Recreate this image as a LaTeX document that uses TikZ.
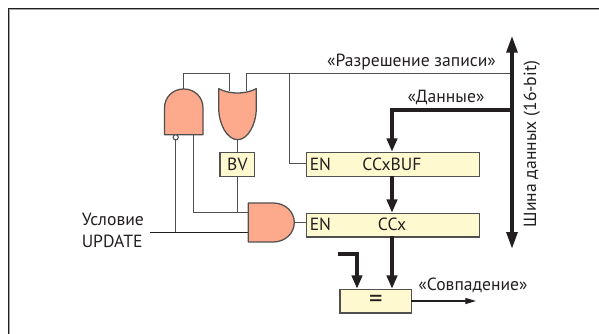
\documentclass[tikz,border=0pt]{standalone}
\usepackage{fontspec}
\setmainfont{PT Sans}
\usetikzlibrary{arrows.meta}
\definecolor{wire}{HTML}{505050}
\definecolor{gatefill}{HTML}{FCA98C}
\definecolor{boxfill}{HTML}{FFF9CF}
\definecolor{ink}{HTML}{231F20}
\tikzset{x=0.75pt,y=-0.75pt,
  wireline/.style={draw=wire,line width=0.9pt},
  gateshape/.style={draw=wire,fill=gatefill,line width=0.95pt,line join=round},
  regbox/.style={draw=wire,fill=boxfill,line width=1.1pt,inner sep=0,anchor=north west},
  thick wire/.style={draw=ink,line width=2.4pt},
  headsmall/.tip={Triangle[length=10pt,width=7.8pt]},
  headbus/.tip={Triangle[length=12.5pt,width=8.2pt]},
  bigarrow/.style={-headsmall},
  label/.style={text=ink,inner sep=0,font=\fontsize{13.2pt}{15pt}\selectfont},
}
\begin{document}
\begin{tikzpicture}
\useasboundingbox (0,0) rectangle (599,334);
\draw[draw=gray!70,line width=0.75pt] (9.8,334) -- (9.8,9.8) -- (599,9.8);
\draw[draw=ink,line width=1.1pt] (8.5,334) -- (8.5,8.5) -- (599,8.5);
% coordinates
\coordinate (nandtop) at (183.5,89);
\coordinate (ortopL) at (229.5,91.5);
\coordinate (ortopR) at (246.5,91.5);
\coordinate (busWE) at (512,73.5);
\coordinate (busData) at (512,110);
\coordinate (bubble) at (175.7,137.3);
\coordinate (update) at (150,232.5);
% wires
\draw[wireline] (nandtop) |- (ortopL |- busWE) -- (ortopL);
\draw[wireline] (ortopR) |- (busWE);
\draw[wireline] (289.5,73.5) |- (306,163.5);
\draw[wireline] (193.5,134) |- (248.5,212.5);
\draw[wireline] (237.5,139) -- (237.5,212.5);
\draw[wireline] (175.5,139.8) -- (175.5,232.5);
\draw[draw=ink,line width=0.8pt] (update) -- (248.5,232.5);
\draw[wireline] (294,222.5) -- (306,222.5);
% gates
\path[gateshape] (164.5,134.7) -- (164.5,108) .. controls (164.5,97) and (173,89) .. (183.7,89) .. controls (194.5,89) and (203,97) .. (203,108) -- (203,134.7) -- cycle;
\path[gateshape] (218.7,88.7) .. controls (230,94.5) and (245,94.5) .. (256.3,88.7) -- (256.3,108) .. controls (256.3,124) and (248,139.7) .. (237.7,139.7) .. controls (227,139.7) and (218.7,124) .. (218.7,108) -- cycle;
\path[gateshape] (248.3,203) -- (273,203) .. controls (285,203) and (294.3,211.5) .. (294.3,222.5) .. controls (294.3,233.5) and (285,242) .. (273,242) -- (248.3,242) -- cycle;
\draw[draw=wire,fill=white,line width=0.8pt] (bubble) circle (2.6);
% boxes
\node[regbox,minimum width=34.7*0.75pt,minimum height=24*0.75pt] (bv) at (219.3,151.7) {};
\node[regbox,minimum width=173.3*0.75pt,minimum height=24*0.75pt] (buf) at (305.7,151.7) {};
\node[regbox,minimum width=173.3*0.75pt,minimum height=23.6*0.75pt] (cc) at (305.7,212.7) {};
\node[regbox,minimum width=71.7*0.75pt,minimum height=23.6*0.75pt] (cmp) at (339.3,288.7) {};
\node[label] at (bv.center) {BV};
\node[label,anchor=west] (en1) at (309.5,163.9) {EN};
\node[label,anchor=west] (en2) at (309.5,224.8) {EN};
\node[label] (ccbuf) at (392,163.9) {CCxBUF};
\node[label] (ccx) at (392,224.8) {CCx};
\node[label,font=\fontsize{20pt}{22pt}\selectfont] at (cmp.center) {=};
% thick
\draw[thick wire,bigarrow] (busData) -| (392,151.7);
\draw[thick wire,bigarrow] (392,175.7) -- (392,212.7);
\draw[thick wire,bigarrow] (392,236.3) -- (392,288.7);
\draw[thick wire,bigarrow] (338,254) -| (357,288.7);
\draw[thick wire,headbus-headbus] (512,36) -- (512,248.7);
\draw[draw=ink,line width=0.8pt,-{Triangle[length=8pt,width=4.5pt]}] (411,301) -- (476,301);
% labels
\node[label,anchor=base] at (411.5,66.5) {«Разрешение записи»};
\node[label,anchor=base] at (446,102.5) {«Данные»};
\node[label,anchor=base] at (473,291) {«Совпадение»};
\node[label,anchor=base west] at (81.5,226) {Условие};
\node[label,anchor=base west] at (81.5,248) {UPDATE};
\node[label,rotate=90,anchor=base] at (536,144) {Шина данных (16-bit)};
\end{tikzpicture}
\end{document}
